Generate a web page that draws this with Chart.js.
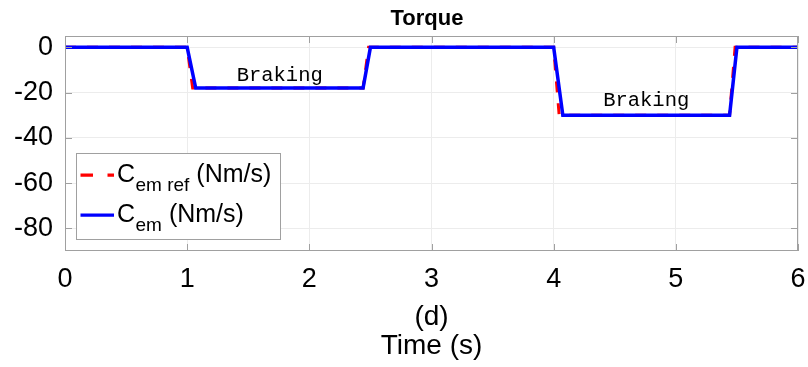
<!DOCTYPE html>
<html>
<head>
<meta charset="utf-8">
<title>Torque</title>
<script src="https://cdn.jsdelivr.net/npm/chart.js@4.4.0/dist/chart.umd.min.js"></script>
<style>
  body { margin: 0; background: #fff; }
  #torque { display: block; }
</style>
</head>
<body>
<canvas id="torque" width="808" height="367"></canvas>
<script>
// torque step response, time in s, torque in Nm/s
var emTime    = [0, 1.0, 1.07, 2.44, 2.50, 4.0, 4.075, 5.44, 5.50, 6];
var emTorque  = [0, 0, -18, -18, 0, 0, -30, -30, 0, 0];
var refTime   = [0, 1.0, 1.045, 2.44, 2.485, 4.0, 4.045, 5.44, 5.485, 6];
var refTorque = [0, 0, -18, -18, 0, 0, -30, -30, 0, 0];

var xTicks = [0, 1, 2, 3, 4, 5, 6];
var yTicks = [-80, -60, -40, -20, 0];

// "Braking" notes (left edge, baseline)
var noteText = ['Braking', 'Braking'];
var noteX = [1.405, 4.405];
var noteY = [-15.1, -25.9];

function toPoints(xs, ys) {
    var pts = [];
    for (var i in xs) {
        pts.push({x: xs[i], y: ys[i]});
    }
    return pts;
}

var SANS = "'Liberation Sans', Arial, Helvetica, sans-serif";
var MONO = "'Liberation Mono', 'Courier New', monospace";
var FRAME = '#a0a0a0';

// title, box, inward ticks, notes and legend
var extras = {
    id: 'extras',
    afterDraw: function(chart) {
        var ctx = chart.ctx;
        var a = chart.chartArea;
        var xs = chart.scales.x, ys = chart.scales.y;
        var tl = 7;

        ctx.save();
        ctx.fillStyle = '#000';
        ctx.font = 'bold 22px ' + SANS;
        ctx.textAlign = 'center';
        ctx.textBaseline = 'middle';
        ctx.fillText('Torque', 427, 19);

        ctx.strokeStyle = FRAME;
        ctx.lineWidth = 1;
        ctx.strokeRect(Math.round(a.left) + 0.5, Math.round(a.top) + 0.5,
            Math.round(a.right - a.left) - 1, Math.round(a.bottom - a.top) - 1);

        ctx.beginPath();
        xTicks.forEach(function(v) {
            var px = Math.round(xs.getPixelForValue(v)) + 0.5;
            ctx.moveTo(px, a.bottom); ctx.lineTo(px, a.bottom - tl);
            ctx.moveTo(px, a.top); ctx.lineTo(px, a.top + tl);
        });
        yTicks.forEach(function(v) {
            var py = Math.round(ys.getPixelForValue(v)) + 0.5;
            ctx.moveTo(a.left, py); ctx.lineTo(a.left + tl, py);
            ctx.moveTo(a.right, py); ctx.lineTo(a.right - tl, py);
        });
        ctx.stroke();

        // notes
        ctx.fillStyle = '#000';
        ctx.font = '20.5px ' + MONO;
        ctx.textAlign = 'left';
        ctx.textBaseline = 'alphabetic';
        for (var i in noteText) {
            ctx.fillText(noteText[i], xs.getPixelForValue(noteX[i]), ys.getPixelForValue(noteY[i]));
        }

        // legend
        var lx = 76, ly = 153, lw = 204, lh = 86;
        ctx.fillStyle = '#fff';
        ctx.fillRect(lx, ly, lw, lh);
        ctx.strokeStyle = FRAME;
        ctx.strokeRect(lx + 0.5, ly + 0.5, lw, lh);

        var rows = [
            {color: '#ff0000', dash: [12.5, 14.5], sub: 'em ref', y: 181.7},
            {color: '#0000ff', dash: [], sub: 'em', y: 221.7}
        ];
        rows.forEach(function(r) {
            ctx.beginPath();
            ctx.setLineDash(r.dash);
            ctx.strokeStyle = r.color;
            ctx.lineWidth = 3.2;
            ctx.moveTo(80.5, r.y - 6.5);
            ctx.lineTo(114, r.y - 6.5);
            ctx.stroke();
            ctx.setLineDash([]);

            ctx.fillStyle = '#000';
            var tx = 117;
            ctx.font = '25px ' + SANS;
            ctx.fillText('C', tx, r.y);
            tx += ctx.measureText('C').width + 0.5;
            ctx.font = '19px ' + SANS;
            ctx.fillText(r.sub, tx, r.y + 9.5);
            tx += ctx.measureText(r.sub).width;
            ctx.font = '25px ' + SANS;
            ctx.fillText(' (Nm/s)', tx, r.y);
        });
        ctx.restore();
    }
};

var chartdata = {
    datasets: [
        {
            label: 'Cem (Nm/s)',
            data: toPoints(emTime, emTorque),
            showLine: true,
            borderColor: '#0000ff',
            borderWidth: 3.5,
            pointRadius: 0,
            fill: false
        },
        {
            label: 'Cem ref (Nm/s)',
            data: toPoints(refTime, refTorque),
            showLine: true,
            borderColor: '#ff0000',
            borderWidth: 3,
            borderDash: [11, 11],
            pointRadius: 0,
            fill: false
        }
    ]
};

var tickFont = {family: SANS, size: 27};

var torqueChart = new Chart(document.getElementById('torque'), {
    type: 'scatter',
    data: chartdata,
    plugins: [extras],
    options: {
        responsive: false,
        animation: false,
        layout: {padding: {left: 0, right: 10, top: 36, bottom: 0}},
        plugins: {
            legend: {display: false},
            tooltip: {enabled: false},
            title: {display: false}
        },
        scales: {
            x: {
                type: 'linear',
                min: 0,
                max: 6,
                afterBuildTicks: function(s) { s.ticks = xTicks.map(function(v) { return {value: v}; }); },
                afterFit: function(s) {
                    s.height = 116;
                    s.paddingLeft = 0;
                    s.paddingRight = 0;
                },
                ticks: {font: tickFont, color: '#000', padding: 12, maxRotation: 0},
                grid: {color: '#ececec', drawTicks: false},
                border: {display: false},
                title: {
                    display: true,
                    text: ['(d)', 'Time (s)'],
                    color: '#000',
                    font: {family: SANS, size: 28, lineHeight: 1.05},
                    padding: {top: 0, bottom: 6}
                }
            },
            y: {
                type: 'linear',
                min: -90,
                max: 5,
                afterBuildTicks: function(s) { s.ticks = yTicks.map(function(v) { return {value: v}; }); },
                afterFit: function(s) {
                    s.width = 65;
                    s.paddingTop = 0;
                    s.paddingBottom = 0;
                },
                ticks: {font: tickFont, color: '#000', padding: 12},
                grid: {color: '#ececec', drawTicks: false},
                border: {display: false}
            }
        }
    }
});
</script>
</body>
</html>
